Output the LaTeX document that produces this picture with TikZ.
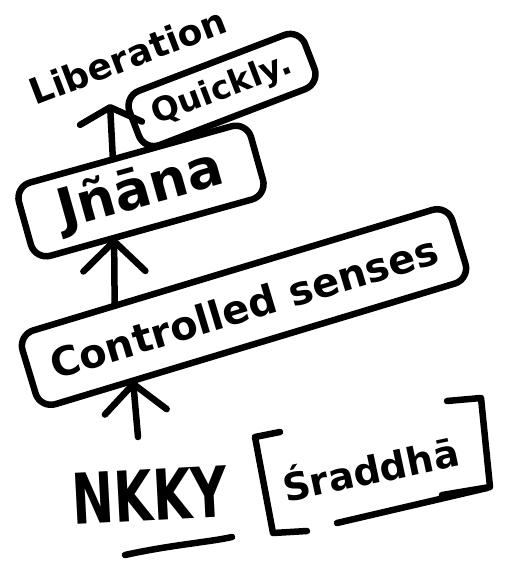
\documentclass[tikz,border=0pt]{standalone}
\usepackage{fontspec}
\setmainfont{DejaVu Sans}
\usetikzlibrary{arrows.meta,calc}
\begin{document}
\begin{tikzpicture}[x=1pt,y=1pt,
  ink/.style={line width=6.5pt, line cap=round, line join=round},
  stepbox/.style={ink, draw, rounded corners=16pt, inner sep=0pt, outer sep=0pt},
  up/.style={ink, -{Straight Barb[length=#1, width=62pt, round]}},
  up/.default=30pt,
  big/.style={font=\bfseries\fontsize{#1}{#1}\selectfont},
]
\useasboundingbox (0,0) rectangle (508,-567);

% goal and the stages leading to it
\node[big=36, rotate=21] (lib) at (128,-56) {Liberation};
\node[stepbox, big=33, rotate=21, minimum width=188pt, minimum height=58pt]
  (quick) at (222,-90) {Quickly.};
\node[stepbox, big=54, rotate=15.6, minimum width=241pt, minimum height=76pt]
  (jnana) at (141,-191) {Jñāna};
\node[stepbox, big=40, rotate=16.8, minimum width=449pt, minimum height=77pt]
  (cs) at (244,-307) {Controlled senses};

% the starting point
\node[big=50, rotate=3] (nk) at (150,-495) {\scalebox{1}[1.4]{NKKY}};
\node[big=38, rotate=12] (sr) at (370,-467) {Śraddhā};
\draw[ink] (280,-432) -- (255,-437) -- (273,-533) -- (307,-531);
\draw[ink] (447,-401) -- (481,-398) -- (490,-487) -- (442,-495);
\draw[ink] (337,-523) -- (487,-488);
\draw[ink] (125,-555) .. controls (170,-545) and (210,-542) .. (232,-537);

% upward arrows between the stages
\coordinate (foot) at (138,-437);
\coordinate (top) at (110,-104);
\draw[up=28pt] (foot) -- ($(cs.south west)!0.216!(cs.south east)$);
\draw[up] ($(cs.north west)!0.225!(cs.north east)$)
  -- ($(jnana.south west)!0.34!(jnana.south east)$);
\draw[up=16pt] ($(jnana.north west)!0.423!(jnana.north east)$) -- (top);
\end{tikzpicture}
\end{document}
